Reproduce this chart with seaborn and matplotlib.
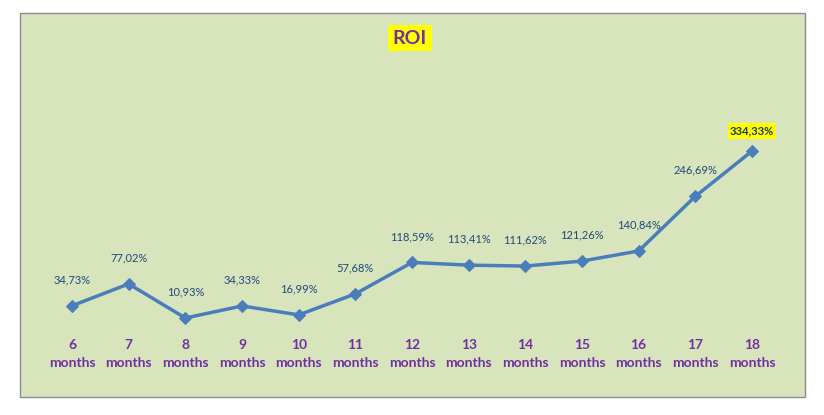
import matplotlib
matplotlib.use("Agg")
import matplotlib.pyplot as plt
import seaborn as sns
import pandas as pd
from matplotlib.patches import Rectangle

months = ["6", "7", "8", "9", "10", "11", "12", "13", "14", "15", "16", "17", "18"]
roi = [34.73, 77.02, 10.93, 34.33, 16.99, 57.68, 118.59, 113.41, 111.62, 121.26, 140.84, 246.69, 334.33]
labels = ["34,73%", "77,02%", "10,93%", "34,33%", "16,99%", "57,68%", "118,59%", "113,41%",
          "111,62%", "121,26%", "140,84%", "246,69%", "334,33%"]

sns.set_style("white")
plt.rcParams['font.family'] = ['Lato', 'DejaVu Sans']

fig = plt.figure(figsize=(8.24, 4.15), dpi=100, facecolor="white")
fig.patches.append(Rectangle((20/824, 1-397/415), 785/824, 384/415, transform=fig.transFigure,
                             facecolor="#d8e4bc", edgecolor="#8c8c8c", linewidth=1, zorder=-10))
ax = fig.add_axes([43.7/824, 1-325/415, (780.3-43.7)/824, 265/415])
ax.set_zorder(5)
ax.patch.set_alpha(0)
df = pd.DataFrame({"x": range(len(months)), "roi": roi})
sns.lineplot(data=df, x="x", y="roi", ax=ax, color="#4a7ebb", linewidth=2.5,
             marker="D", markersize=6, markeredgecolor="#4a7ebb")
ax.set_xlim(-0.5, len(months) - 0.5)
ax.set_ylim(-2.6, 510.9)
for s in ax.spines.values():
    s.set_visible(False)
ax.set_yticks([])
ax.set_xticks(range(len(months)))
ax.set_xticklabels([f"{m}\nmonths" for m in months], color="#7030a0", fontweight="bold", fontsize=10,
                   linespacing=1.6)
ax.tick_params(axis="x", length=0, pad=10)
ax.set_xlabel("")
ax.set_ylabel("")
for i, (v, t) in enumerate(zip(roi, labels)):
    if i == len(roi) - 1:
        ax.annotate(t, (i, v), xytext=(0, 20), textcoords="offset pixels", ha="center", va="center",
                    fontsize=8, color="#1f3864", fontweight="bold",
                    bbox=dict(boxstyle="square,pad=0.2", facecolor="yellow", edgecolor="none"))
    else:
        ax.annotate(t, (i, v), xytext=(0, 26), textcoords="offset pixels", ha="center", va="center",
                    fontsize=8, color="#1f497d")
fig.text(410/824, 1-38/415, "ROI", ha="center", va="center", fontsize=14, fontweight="bold",
         color="#7030a0", bbox=dict(boxstyle="square,pad=0.25", facecolor="yellow", edgecolor="none"))
fig.savefig("out.png", dpi=100, facecolor="white")
